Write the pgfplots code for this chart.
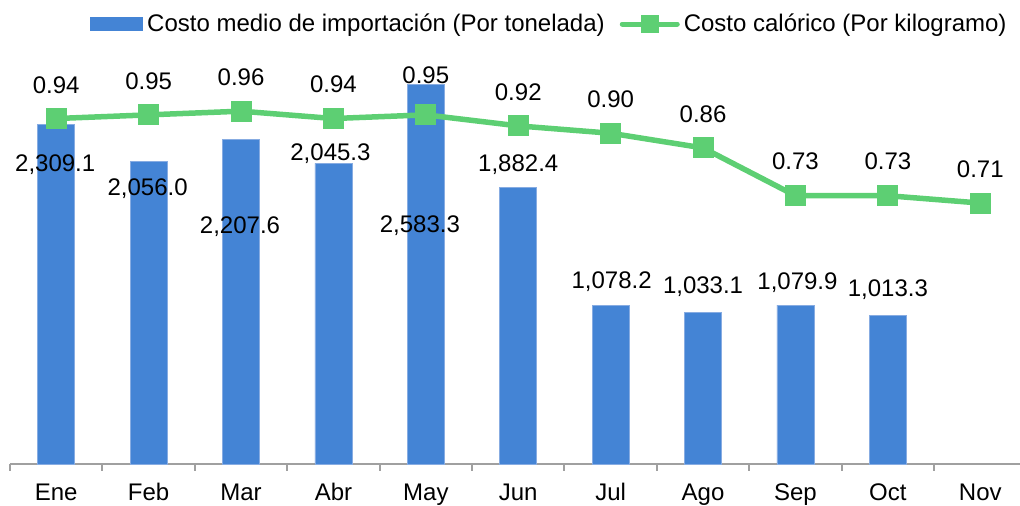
\documentclass[border=0pt]{standalone}
\usepackage{fontspec}
\setmainfont{Liberation Sans}
\usepackage{pgfplots}
\pgfplotsset{compat=1.18}
\usepackage{pgfplotstable}

\definecolor{barblue}{RGB}{68,132,213}
\definecolor{baredge}{RGB}{135,172,226}
\definecolor{linegreen}{RGB}{93,207,115}
\definecolor{axisgray}{RGB}{160,160,160}
\newcommand{\lbl}{\fontsize{12}{14}\selectfont}

% costo medio de importacion, with label offsets (pt) as placed in the original
\pgfplotstableread{
x y dx dy
0 2309.1 -0.5 -20
1 2056.0 -0.5 -13.5
2 2207.6 -0.5 -43.5
3 2045.3 -1.5 5
4 2583.3 -3 -70.5
5 1882.4 0 11.5
6 1078.2 0.5 12
7 1033.1 0 12.5
8 1079.9 1 11.5
9 1013.3 0 12.5
}\costo

% costo calorico
\pgfplotstableread{
x y dy
0 0.94 16.5
1 0.95 17
2 0.96 17
3 0.94 17
4 0.95 20
5 0.92 17
6 0.90 17
7 0.86 17
8 0.73 17
9 0.73 17
10 0.71 17
}\calor

\begin{document}
\begin{tikzpicture}
\useasboundingbox (0,0) rectangle (510pt,253pt);
\begin{axis}[
  at={(5pt,21pt)}, anchor=south west,
  scale only axis, width=505pt, height=220.5pt,
  xmin=-0.5, xmax=10.43, ymin=0, ymax=3000,
  axis x line=bottom, axis y line=none,
  axis line style={-, draw=axisgray, line width=1pt},
  xtick={0,...,10},
  xticklabels={Ene,Feb,Mar,Abr,May,Jun,Jul,Ago,Sep,Oct,Nov},
  major tick length=0pt,
  minor xtick={-0.5,0.5,...,9.5},
  minor tick length=3.5pt, tick align=outside,
  minor tick style={draw=axisgray, line width=1pt},
  xticklabel style={font=\lbl, anchor=base, yshift=-18.5pt},
  ytick=\empty,
  clip=false,
  /pgf/number format/assume math mode=true,
  legend style={at={(0.0792,0.9977)}, anchor=west, draw=none, fill=none,
    inner sep=0pt, font=\lbl, legend columns=2,
    /tikz/every even column/.append style={column sep=5.5pt},
    nodes={inner xsep=2pt, inner ysep=0pt}},
]
\addplot[ybar, bar width=18.5pt, bar shift=0pt, fill=barblue, draw=baredge, line width=0.4pt,
  legend image code/.code={\fill[barblue] (0pt,-3.25pt) rectangle (26pt,3.25pt);},
  visualization depends on={\thisrow{dx}\as\bdx},
  visualization depends on={\thisrow{dy}\as\bdy},
  nodes near coords={\pgfmathprintnumber[fixed,fixed zerofill,precision=1,1000 sep={,}]{\pgfplotspointmeta}},
  nodes near coords style={anchor=center, xshift=\bdx pt, yshift=\bdy pt, font=\lbl, text=black, inner sep=0pt},
] table[x=x,y=y]{\costo};
\addlegendentry{Costo medio de importación (Por tonelada)}
\addlegendimage{legend image code/.code={
  \draw[linegreen, line width=2.5pt, line cap=round] (0pt,0pt) -- (27.5pt,0pt);
  \fill[linegreen] (9.5pt,-4.25pt) rectangle (18pt,4.25pt);}}
\addlegendentry{Costo calórico (Por kilogramo)}
\end{axis}

\begin{axis}[
  at={(5pt,21pt)}, anchor=south west,
  scale only axis, width=505pt, height=220.5pt,
  xmin=-0.5, xmax=10.43, ymin=0, ymax=1.2,
  hide axis, clip=false,
  /pgf/number format/assume math mode=true,
]
\addplot[linegreen, line width=2.75pt, line join=round,
  mark=square*, mark size=5pt, mark options={solid, fill=linegreen, draw=linegreen, line width=0pt},
  visualization depends on={\thisrow{dy}\as\ldy},
  nodes near coords={\pgfmathprintnumber[fixed,fixed zerofill,precision=2]{\pgfplotspointmeta}},
  nodes near coords style={anchor=center, yshift=\ldy pt, font=\lbl, text=black, inner sep=0pt},
] table[x=x,y=y]{\calor};
\end{axis}
\end{tikzpicture}
\end{document}
